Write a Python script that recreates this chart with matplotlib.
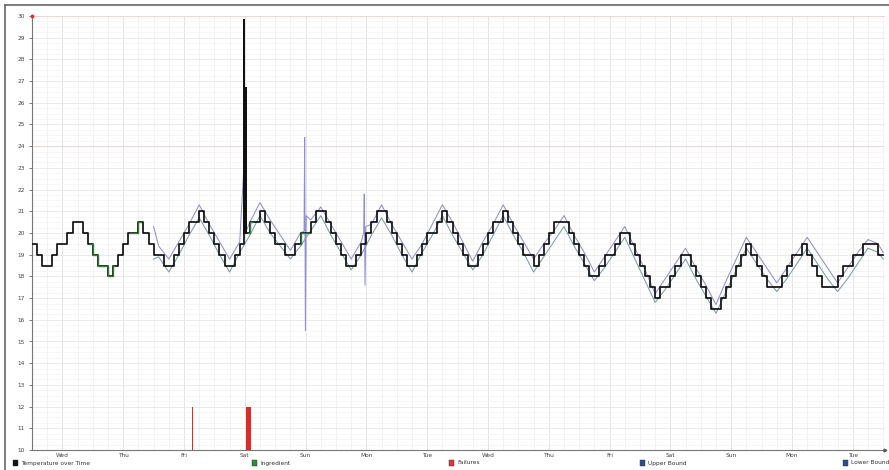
import numpy as np
import matplotlib
matplotlib.use('Agg')
import matplotlib.pyplot as plt
from matplotlib.lines import Line2D
from matplotlib.patches import Rectangle

# ---------------- data ----------------
day_names = ['Wed', 'Thu', 'Fri', 'Sat', 'Sun', 'Mon', 'Tue',
             'Wed', 'Thu', 'Fri', 'Sat', 'Sun', 'Mon', 'Tue']
y_ticks = list(range(10, 31))

# temperature sampled every 2 hours (one row per day, hours 0,2,...,22)
temperature = [
    [19.5, 19.0, 18.5, 18.5, 19.0, 19.5, 19.5, 20.0, 20.5, 20.5, 20.0, 19.5],
    [19.0, 18.5, 18.5, 18.0, 18.5, 19.0, 19.5, 20.0, 20.0, 20.5, 20.0, 19.5],
    [19.0, 19.0, 18.5, 18.5, 19.0, 19.5, 20.0, 20.5, 20.5, 21.0, 20.5, 20.0],
    [19.5, 19.0, 18.5, 18.5, 19.0, 19.5, 20.0, 20.5, 20.5, 21.0, 20.5, 20.0],
    [19.5, 19.5, 19.0, 19.0, 19.5, 20.0, 20.0, 20.5, 21.0, 21.0, 20.5, 20.0],
    [19.5, 19.0, 18.5, 18.5, 19.0, 19.5, 20.0, 20.5, 21.0, 21.0, 20.5, 20.0],
    [19.5, 19.0, 18.5, 18.5, 19.0, 19.5, 20.0, 20.0, 20.5, 21.0, 20.5, 20.0],
    [19.5, 19.0, 18.5, 18.5, 19.0, 19.5, 20.0, 20.5, 20.5, 21.0, 20.5, 20.0],
    [19.5, 19.0, 19.0, 18.5, 19.0, 19.5, 20.0, 20.5, 20.5, 20.5, 20.0, 19.5],
    [19.0, 18.5, 18.0, 18.0, 18.5, 19.0, 19.0, 19.5, 20.0, 20.0, 19.5, 19.0],
    [18.5, 18.0, 17.5, 17.0, 17.5, 17.5, 18.0, 18.5, 19.0, 19.0, 18.5, 18.0],
    [17.5, 17.0, 16.5, 16.5, 17.0, 17.5, 18.0, 18.5, 19.0, 19.5, 19.0, 18.5],
    [18.0, 17.5, 17.5, 17.5, 18.0, 18.5, 19.0, 19.0, 19.5, 19.0, 18.5, 18.0],
    [17.5, 17.5, 17.5, 18.0, 18.5, 18.5, 19.0, 19.0, 19.5, 19.5, 19.5, 19.0],
]
temperature_end = 19.0
# short spike in the temperature on Saturday (days since start, value)
temp_spike_days = [3.484, 3.489, 3.514, 3.519]
temp_spike_vals = [29.8, 20.0, 26.7, 20.0]

# periods where the Ingredient trace shows (days since start)
ingredient_start = [0.95, 1.62, 3.55, 4.40]
ingredient_end = [1.35, 1.80, 3.62, 4.56]

# bounds sampled at hours 2,6,10,14,18,22 from day 2 (Fri) onward
upper_first = 20.3
upper_bound = [
    [19.4, 18.8, 19.6, 20.4, 21.3, 20.4],
    [19.6, 18.8, 19.6, 20.5, 21.4, 20.6],
    [19.9, 19.2, 20.0, 20.6, 21.2, 20.4],
    [19.6, 18.8, 19.6, 20.4, 21.3, 20.4],
    [19.6, 18.8, 19.5, 20.4, 21.3, 20.5],
    [19.6, 18.7, 19.6, 20.4, 21.3, 20.4],
    [19.6, 18.8, 19.5, 20.1, 20.8, 19.9],
    [19.1, 18.2, 18.9, 19.6, 20.3, 19.3],
    [18.3, 17.2, 17.9, 18.6, 19.3, 18.4],
    [17.6, 16.7, 17.8, 18.8, 19.8, 19.1],
    [18.4, 17.7, 18.4, 19.1, 19.8, 19.1],
    [18.4, 17.7, 18.4, 19.1, 19.7, 19.5],
]
upper_last = 19.1
upper_spike_days = [3.50, 3.505, 3.51, 4.475, 4.485, 4.497, 4.51, 5.455, 5.465, 5.478, 5.49]
upper_spike_vals = [23.8, 20.4, 20.0, 20.1, 24.4, 15.5, 20.8, 20.0, 21.8, 17.6, 20.3]

lower_first = 18.8
lower_bound = [
    [18.9, 18.2, 19.0, 19.9, 20.7, 19.9],
    [19.0, 18.2, 19.1, 19.9, 20.8, 20.0],
    [19.4, 18.8, 19.4, 20.1, 20.8, 19.9],
    [19.1, 18.3, 19.0, 19.9, 20.7, 19.9],
    [19.0, 18.2, 19.1, 19.9, 20.8, 19.9],
    [19.1, 18.3, 19.0, 19.9, 20.8, 19.9],
    [19.1, 18.2, 18.9, 19.6, 20.3, 19.4],
    [18.6, 17.8, 18.4, 19.1, 19.8, 18.8],
    [17.8, 16.8, 17.4, 18.1, 18.8, 17.9],
    [17.1, 16.3, 17.3, 18.3, 19.3, 18.6],
    [17.9, 17.3, 17.9, 18.6, 19.3, 18.6],
    [17.9, 17.3, 17.9, 18.6, 19.3, 19.1],
]
lower_last = 18.8
bounds_first_day = 2

# failures (days since start) and their level
failure_start = [2.636, 3.515]
failure_end = [2.652, 3.597]
failure_level = [12, 12]

legend_labels = ['Temperature over Time', 'Ingredient', 'Failures',
                 'Upper Bound', 'Lower Bound']

# ---------------- figure ----------------
W, H = 889, 470
fig = plt.figure(figsize=(W / 100, H / 100), dpi=100)
fig.patch.set_facecolor('white')
ax = fig.add_axes([32 / W, 1 - 450 / H, (885 - 32) / W, (450 - 16) / H])
ax.set_facecolor('white')

# temperature series
t_vals = np.array(temperature).ravel()
t_days = np.arange(len(t_vals)) * 2 / 24.0
t_days = np.append(t_days, len(temperature))
t_vals = np.append(t_vals, temperature_end)
all_days = np.concatenate([t_days, temp_spike_days])
all_vals = np.concatenate([t_vals, temp_spike_vals])
order = np.argsort(all_days, kind='stable')
all_days, all_vals = all_days[order], all_vals[order]


def bound_series(first, rows, last, sdays, svals):
    hrs = np.array([2, 6, 10, 14, 18, 22]) / 24.0
    d = [bounds_first_day]
    v = [first]
    for i, row in enumerate(rows):
        d.extend(bounds_first_day + i + hrs)
        v.extend(row)
    d.append(bounds_first_day + len(rows))
    v.append(last)
    d = np.concatenate([d, sdays])
    v = np.concatenate([v, svals])
    o = np.argsort(d, kind='stable')
    return d[o], v[o]


ud, uv = bound_series(upper_first, upper_bound, upper_last, upper_spike_days, upper_spike_vals)
ld, lv = bound_series(lower_first, lower_bound, lower_last, [], [])

# grid
xmax = 14.03
for d in np.arange(0, xmax, 0.25):
    ax.axvline(d, color='#f0f0f0', lw=0.6, zorder=0)
for d in np.arange(0.5, xmax, 1.0):
    ax.axvline(d, color='#e4e4e4', lw=0.7, zorder=0)
for y in np.arange(10, 30.01, 0.25):
    ax.axhline(y, color='#f3f3f3', lw=0.5, zorder=0)
for y in range(10, 31):
    ax.axhline(y, color='#e8e8e8', lw=0.6, zorder=0)
for y in [24, 30]:
    ax.axhline(y, color='#f6d2d2', lw=0.6, zorder=0)

# failures
for s, e, lvl in zip(failure_start, failure_end, failure_level):
    ax.bar(s, lvl - 10, width=e - s, bottom=10, align='edge',
           color='#dd2b2b', edgecolor='none', zorder=2)

# bounds
ax.plot(ld, lv, color='#7c9cad', lw=0.75, zorder=3)
ax.plot(ud, uv, color='#8e90d6', lw=0.75, zorder=3)

# temperature
ax.plot(all_days, all_vals, drawstyle='steps-post', color='#111111', lw=1.25, zorder=4)

# ingredient trace
for s, e in zip(ingredient_start, ingredient_end):
    m = (all_days >= s) & (all_days <= e)
    dd = np.concatenate([[s], all_days[m], [e]])
    idx0 = np.searchsorted(all_days, s, side='right') - 1
    idx1 = np.searchsorted(all_days, e, side='right') - 1
    vv = np.concatenate([[all_vals[idx0]], all_vals[m], [all_vals[idx1]]])
    ax.plot(dd, vv, drawstyle='steps-post', color='#2e7d32', lw=1.0, zorder=5)

ax.set_xlim(0, xmax)
ax.set_ylim(10, 30)
ax.set_xticks(np.arange(len(day_names)) + 0.5)
ax.set_xticklabels(day_names)
ax.set_yticks(y_ticks)
ax.set_yticklabels([str(v) for v in y_ticks])
ax.tick_params(axis='both', labelsize=4.2, colors='#444444', length=2, width=0.5, pad=3)
ax.tick_params(axis='x', length=0, pad=2.5)
for sp in ['top', 'right']:
    ax.spines[sp].set_visible(False)
for sp in ['left', 'bottom']:
    ax.spines[sp].set_color('#777777')
    ax.spines[sp].set_linewidth(0.8)
ax.plot([0], [30], marker='*', color='#dd3333', ms=2.5, clip_on=False, zorder=6)
ax.plot([xmax], [10], marker='>', color='#555555', ms=2, clip_on=False, zorder=6)

# outer frame (top and left)
fig.add_artist(Line2D([5 / W, 1.0], [1 - 5 / H, 1 - 5 / H], transform=fig.transFigure,
                      color='#666666', lw=1.2))
fig.add_artist(Line2D([5 / W, 5 / W], [0, 1 - 5 / H], transform=fig.transFigure,
                      color='#666666', lw=1.2))

# legend row
leg_x = [13, 252, 449, 640, 843]
leg_c = ['#111111', '#2e8b3a', '#d83a3a', '#2c4e94', '#2c4e94']
ly = 463
for x, c, lab in zip(leg_x, leg_c, legend_labels):
    fig.add_artist(Rectangle((x / W, 1 - (ly + 3) / H), 5 / W, 6 / H,
                             transform=fig.transFigure, facecolor=c, edgecolor='#333333', lw=0.3))
    fig.text((x + 8) / W, 1 - ly / H, lab, fontsize=4.2, color='#333333',
             va='center', ha='left')

fig.savefig('out.png', dpi=100, facecolor='white')
